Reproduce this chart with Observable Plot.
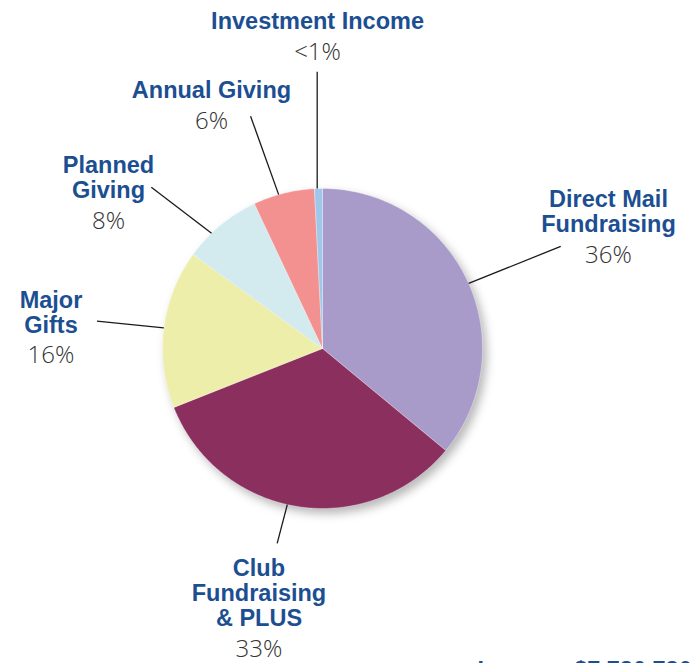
<!DOCTYPE html>
<html>
<head>
<meta charset="utf-8">
<script src="https://cdn.jsdelivr.net/npm/d3@7"></script>
<script src="https://cdn.jsdelivr.net/npm/@observablehq/plot@0.6"></script>
<style>
  html, body { margin: 0; padding: 0; background: #fff; overflow: hidden; }
  #chart svg { display: block; }
</style>
</head>
<body>
<div id="chart"></div>
<script>
// ---- data ----
const categories = ["Direct Mail\nFundraising", "Club\nFundraising\n& PLUS", "Major\nGifts", "Planned\nGiving", "Annual Giving", "Investment Income"];
const shares = [36, 33, 16, 8, 6.2, 0.8];
const shareLabels = ["36%", "33%", "16%", "8%", "6%", "<1%"];
const sliceColors = ["#a99bc9", "#8b2f5f", "#eeeeab", "#d3ebef", "#f39191", "#9ec7ea"];
const caption = "Income: $7,780,780";

// ---- layout (annotation placement, not data) ----
const leaderInAngle = [66.0, 192.7, 277.4, 316.1, 344.1, 358.1];
const leaderOutAngle = [66.8, 193.1, 276.9, 313.3, 342.8, 358.9];
const leaderOutRadius = [1.62, 1.25, 1.42, 1.47, 1.52, 1.73];
const labelX = [1.7875, -0.397, -1.697, -1.3375, -0.694, -0.031];
const labelY = [0.856, -1.531, 0.227, 1.0675, 1.614, 2.044];

const W = 696, H = 663, CX = 322, CY = 348, R = 160;
const FS = 23.5, LH = 25;

// pie geometry from data
const total = d3.sum(shares);
let acc = 0;
const slices = categories.map((name, i) => {
  const a0 = acc / total * 360;
  acc += shares[i];
  const a1 = acc / total * 360;
  return {name, i, a0, a1};
});
const rad = d => d * Math.PI / 180;
const polar = (deg, r) => ({x: r * Math.sin(rad(deg)), y: r * Math.cos(rad(deg))});
const piePts = [];
for (const s of slices) {
  piePts.push({name: s.name, ...polar(0, 0)});
  const n = Math.max(2, Math.ceil((s.a1 - s.a0) / 0.5));
  for (let k = 0; k <= n; k++) piePts.push({name: s.name, ...polar(s.a0 + (s.a1 - s.a0) * k / n, 1)});
  piePts.push({name: s.name, ...polar(0, 0)});
}
const leaders = slices.map((s, i) => {
  const p = polar(leaderInAngle[i], 1.0), q = polar(leaderOutAngle[i], leaderOutRadius[i]);
  return {x1: p.x, y1: p.y, x2: q.x, y2: q.y};
});
const labels = slices.map((s, i) => ({
  name: s.name, pct: shareLabels[i], x: labelX[i], y: labelY[i],
  lines: s.name.split("\n").length
}));

const plot = Plot.plot({
  width: W, height: H,
  margin: 0,
  x: {domain: [-CX / R, (W - CX) / R], axis: null},
  y: {domain: [-(H - CY) / R, CY / R], axis: null},
  color: {domain: categories, range: sliceColors},
  style: {background: "#fff", overflow: "visible"},
  marks: [
    Plot.line(piePts, {x: "x", y: "y", z: "name", fill: "name", stroke: "#ffffff", strokeOpacity: 0.35, strokeWidth: 1, curve: "linear"}),
    Plot.link(leaders, {x1: "x1", y1: "y1", x2: "x2", y2: "y2", stroke: "#1a1a1a", strokeWidth: 1.3}),
    Plot.text(labels, {x: "x", y: "y", text: "name", fontFamily: "Liberation Sans, Arial, sans-serif", fontWeight: "bold", fontSize: FS, lineHeight: LH / FS, fill: "#1c4f92"}),
    ...labels.map(l => Plot.text([l], {x: "x", y: "y", text: "pct", dy: (l.lines - 1) * LH / 2 + 31, fontFamily: "Open Sans, Roboto, sans-serif", fontWeight: 300, fontSize: 24, fill: "#333333"})),
    Plot.text([caption], {x: [(477 - CX) / R], y: [(CY - 669.5) / R], text: d => d, textAnchor: "start", fontFamily: "Liberation Sans, Arial, sans-serif", fontWeight: "bold", fontSize: FS, fill: "#1c4f92"})
  ]
});
d3.select(plot).selectAll('g[aria-label="line"]').style("filter", "drop-shadow(4px 5px 5px rgba(0,0,0,0.28))");
document.getElementById("chart").appendChild(plot);
</script>
</body>
</html>
